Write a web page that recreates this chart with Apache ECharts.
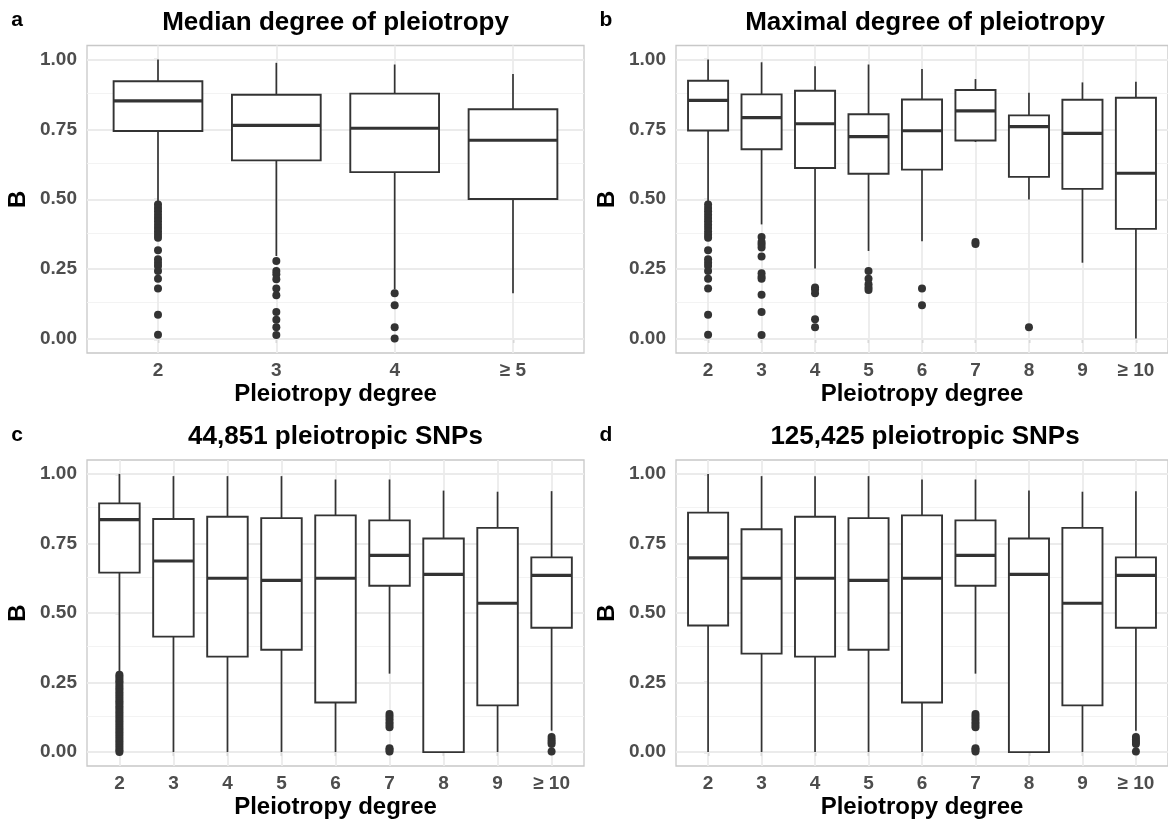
<!DOCTYPE html>
<html>
<head>
<meta charset="utf-8">
<script src="https://cdn.jsdelivr.net/npm/echarts@6/dist/echarts.min.js"></script>
<style>
  html, body { margin: 0; padding: 0; background: #fff; }
  #chart { width: 1168px; height: 823px; }
</style>
</head>
<body>
<div id="chart"></div>
<script>
// tick values
const yTicks = [0, 0.25, 0.5, 0.75, 1];
const yMinor = [0.125, 0.375, 0.625, 0.875];

// categories
const catsA = ['2', '3', '4', '≥ 5'];
const catsB = ['2', '3', '4', '5', '6', '7', '8', '9', '≥ 10'];

// boxes: [lower whisker, Q1, median, Q3, upper whisker]
const boxesA = [
  [0.488, 0.744, 0.852, 0.922, 1.0],
  [0.297, 0.639, 0.764, 0.874, 0.988],
  [0.178, 0.597, 0.754, 0.878, 0.982],
  [0.164, 0.501, 0.711, 0.822, 0.948]
];
const boxesB = [
  [0.488, 0.746, 0.854, 0.924, 1.0],
  [0.41, 0.679, 0.792, 0.875, 0.99],
  [0.252, 0.612, 0.77, 0.888, 0.976],
  [0.315, 0.591, 0.724, 0.804, 0.982],
  [0.35, 0.606, 0.745, 0.857, 0.966],
  [0.705, 0.71, 0.816, 0.891, 0.93],
  [0.499, 0.58, 0.76, 0.8, 0.881],
  [0.273, 0.537, 0.736, 0.856, 0.918],
  [0.002, 0.394, 0.593, 0.863, 0.92]
];
const boxesC = [
  [0.282, 0.645, 0.836, 0.894, 1.0],
  [0.0, 0.415, 0.687, 0.838, 0.992],
  [0.0, 0.343, 0.625, 0.846, 0.992],
  [0.0, 0.368, 0.617, 0.841, 0.992],
  [0.0, 0.178, 0.625, 0.851, 0.98],
  [0.282, 0.598, 0.707, 0.833, 0.98],
  [0.0, 0.0, 0.639, 0.768, 0.94],
  [0.0, 0.168, 0.535, 0.806, 0.936],
  [0.077, 0.447, 0.635, 0.7, 0.938]
];
const boxesD = [
  [0.0, 0.455, 0.698, 0.861, 1.0],
  [0.0, 0.354, 0.625, 0.801, 0.992],
  [0.0, 0.343, 0.625, 0.846, 0.992],
  [0.0, 0.368, 0.617, 0.841, 0.992],
  [0.0, 0.178, 0.625, 0.851, 0.98],
  [0.282, 0.598, 0.707, 0.833, 0.98],
  [0.0, 0.0, 0.639, 0.768, 0.94],
  [0.0, 0.168, 0.535, 0.806, 0.936],
  [0.077, 0.447, 0.635, 0.7, 0.938]
];

// outliers: [category index, value]
const outliersA = [
  [0, 0.481], [0, 0.469], [0, 0.457], [0, 0.445], [0, 0.433], [0, 0.421], [0, 0.409],
  [0, 0.397], [0, 0.385], [0, 0.373], [0, 0.362], [0, 0.318], [0, 0.285], [0, 0.273],
  [0, 0.261], [0, 0.243], [0, 0.216], [0, 0.181], [0, 0.087], [0, 0.015],
  [1, 0.279], [1, 0.243], [1, 0.232], [1, 0.214], [1, 0.181], [1, 0.157], [1, 0.097],
  [1, 0.069], [1, 0.042], [1, 0.014],
  [2, 0.164], [2, 0.121], [2, 0.042], [2, 0.002]
];
const outliersB = [
  [0, 0.481], [0, 0.469], [0, 0.457], [0, 0.445], [0, 0.433], [0, 0.421], [0, 0.409],
  [0, 0.397], [0, 0.385], [0, 0.373], [0, 0.362], [0, 0.318], [0, 0.285], [0, 0.273],
  [0, 0.261], [0, 0.243], [0, 0.216], [0, 0.181], [0, 0.087], [0, 0.015],
  [1, 0.365], [1, 0.347], [1, 0.338], [1, 0.327], [1, 0.295], [1, 0.235], [1, 0.223],
  [1, 0.216], [1, 0.158], [1, 0.097], [1, 0.014],
  [2, 0.184], [2, 0.178], [2, 0.164], [2, 0.071], [2, 0.042],
  [3, 0.243], [3, 0.216], [3, 0.196], [3, 0.184], [3, 0.175],
  [4, 0.181], [4, 0.121],
  [5, 0.347], [5, 0.34],
  [6, 0.042]
];
const outliersC = [
  [0, 0.278], [0, 0.271], [0, 0.263], [0, 0.255], [0, 0.248], [0, 0.239], [0, 0.231],
  [0, 0.224], [0, 0.215], [0, 0.207], [0, 0.199], [0, 0.191], [0, 0.183], [0, 0.176],
  [0, 0.167], [0, 0.159], [0, 0.151], [0, 0.143], [0, 0.135], [0, 0.127], [0, 0.119],
  [0, 0.111], [0, 0.103], [0, 0.095], [0, 0.087], [0, 0.079], [0, 0.071], [0, 0.063],
  [0, 0.055], [0, 0.047], [0, 0.039], [0, 0.031], [0, 0.023], [0, 0.015], [0, 0.007], [0, 0.0],
  [5, 0.137], [5, 0.128], [5, 0.118], [5, 0.107], [5, 0.098], [5, 0.089],
  [5, 0.014], [5, 0.008], [5, 0.002],
  [8, 0.054], [8, 0.044], [8, 0.036], [8, 0.029], [8, 0.002]
];
const outliersD = [
  [5, 0.137], [5, 0.128], [5, 0.118], [5, 0.107], [5, 0.098], [5, 0.089],
  [5, 0.014], [5, 0.008], [5, 0.002],
  [8, 0.054], [8, 0.044], [8, 0.036], [8, 0.029], [8, 0.002]
];

const titles = ['Median degree of pleiotropy', 'Maximal degree of pleiotropy',
  '44,851 pleiotropic SNPs', '125,425 pleiotropic SNPs'];
const letters = ['a', 'b', 'c', 'd'];

const FONT = '"Liberation Sans", Arial, sans-serif';
const INK = '#333333';

const panels = [
  { cats: catsA, boxes: boxesA, outliers: outliersA, grid: { left: 87, top: 45.5, width: 497, height: 307.5 } },
  { cats: catsB, boxes: boxesB, outliers: outliersB, grid: { left: 676, top: 45.5, width: 498, height: 307.5 } },
  { cats: catsB, boxes: boxesC, outliers: outliersC, grid: { left: 87, top: 460, width: 497, height: 306 } },
  { cats: catsB, boxes: boxesD, outliers: outliersD, grid: { left: 676, top: 460, width: 498, height: 306 } }
];

function renderBox (params, api) {
  const x = api.value(0);
  const lo = api.coord([x, api.value(1)]);
  const q1 = api.coord([x, api.value(2)]);
  const med = api.coord([x, api.value(3)]);
  const q3 = api.coord([x, api.value(4)]);
  const hi = api.coord([x, api.value(5)]);
  const w = api.size([0.75, 0])[0];
  const cx = q1[0];
  return {
    type: 'group',
    children: [
      { type: 'line', shape: { x1: cx, y1: hi[1], x2: cx, y2: q3[1] }, style: { stroke: INK, lineWidth: 1.7 } },
      { type: 'line', shape: { x1: cx, y1: q1[1], x2: cx, y2: lo[1] }, style: { stroke: INK, lineWidth: 1.7 } },
      { type: 'rect', shape: { x: cx - w / 2, y: q3[1], width: w, height: q1[1] - q3[1] }, style: { fill: '#fff', stroke: INK, lineWidth: 1.9 } },
      { type: 'line', shape: { x1: cx - w / 2, y1: med[1], x2: cx + w / 2, y2: med[1] }, style: { stroke: INK, lineWidth: 3.2 } }
    ]
  };
}

const grid = [];
const xAxis = [];
const yAxis = [];
const series = [];
const graphic = [];

panels.forEach((p, i) => {
  const idx = p.cats.map((c, k) => k);
  grid.push(Object.assign({ show: true, borderColor: '#C8C8C8', borderWidth: 1.3, backgroundColor: 'transparent' }, p.grid));
  xAxis.push({
    gridIndex: i,
    type: 'value',
    min: -0.6,
    max: p.cats.length - 1 + 0.6,
    axisLine: { show: false },
    splitLine: { show: false },
    axisTick: { customValues: idx, length: 4, lineStyle: { color: INK, width: 1.2 } },
    axisLabel: {
      customValues: idx,
      formatter: v => p.cats[Math.round(v)],
      margin: 8,
      fontSize: 19,
      fontWeight: 'bold',
      fontFamily: FONT,
      color: '#4D4D4D'
    },
    name: 'Pleiotropy degree',
    nameLocation: 'middle',
    nameGap: 29,
    nameTextStyle: { fontSize: 24, fontWeight: 'bold', fontFamily: FONT, color: '#000' }
  });
  yAxis.push({
    gridIndex: i,
    type: 'value',
    min: -0.05,
    max: 1.05,
    axisLine: { show: false },
    splitLine: { show: false },
    axisTick: { customValues: yTicks, length: 4, lineStyle: { color: INK, width: 1.2 } },
    axisLabel: {
      customValues: yTicks,
      formatter: v => v.toFixed(2),
      margin: 10,
      fontSize: 19,
      fontWeight: 'bold',
      fontFamily: FONT,
      color: '#4D4D4D'
    },
    name: 'B',
    nameLocation: 'middle',
    nameGap: 57,
    nameTextStyle: { fontSize: 24, fontWeight: 'bold', fontFamily: FONT, color: '#000' }
  });
  // background grid lines
  series.push({
    type: 'line',
    xAxisIndex: i,
    yAxisIndex: i,
    data: [],
    silent: true,
    markLine: {
      silent: true,
      symbol: 'none',
      z: 1,
      animation: false,
      label: { show: false },
      emphasis: { disabled: true },
      data: [].concat(
        yTicks.map(v => ({ yAxis: v, lineStyle: { color: '#EBEBEB', width: 1.8, type: 'solid' } })),
        yMinor.map(v => ({ yAxis: v, lineStyle: { color: '#F3F3F3', width: 1.2, type: 'solid' } })),
        idx.map(v => ({ xAxis: v, lineStyle: { color: '#EBEBEB', width: 1.8, type: 'solid' } }))
      )
    }
  });
  series.push({
    type: 'custom',
    xAxisIndex: i,
    yAxisIndex: i,
    z: 2,
    renderItem: renderBox,
    encode: { x: 0, y: [1, 2, 3, 4, 5] },
    data: p.boxes.map((b, k) => [k].concat(b)),
    animation: false
  });
  series.push({
    type: 'scatter',
    xAxisIndex: i,
    yAxisIndex: i,
    z: 3,
    symbolSize: 8,
    itemStyle: { color: INK, opacity: 1 },
    data: p.outliers,
    animation: false
  });
  const cx = p.grid.left + p.grid.width / 2;
  const ty = p.grid.top - 23;
  graphic.push({
    type: 'text', x: cx, y: ty,
    style: { text: titles[i], fontSize: 26, fontWeight: 'bold', fontFamily: FONT, fill: '#000', align: 'center', verticalAlign: 'middle' }
  });
  graphic.push({
    type: 'text', x: p.grid.left - 70, y: ty - 2,
    style: { text: letters[i], fontSize: 21, fontWeight: 'bold', fontFamily: FONT, fill: '#000', align: 'center', verticalAlign: 'middle' }
  });
});

const myChart = echarts.init(document.getElementById('chart'));
myChart.setOption({
  backgroundColor: '#fff',
  animation: false,
  grid,
  xAxis,
  yAxis,
  series,
  graphic
});
</script>
</body>
</html>
